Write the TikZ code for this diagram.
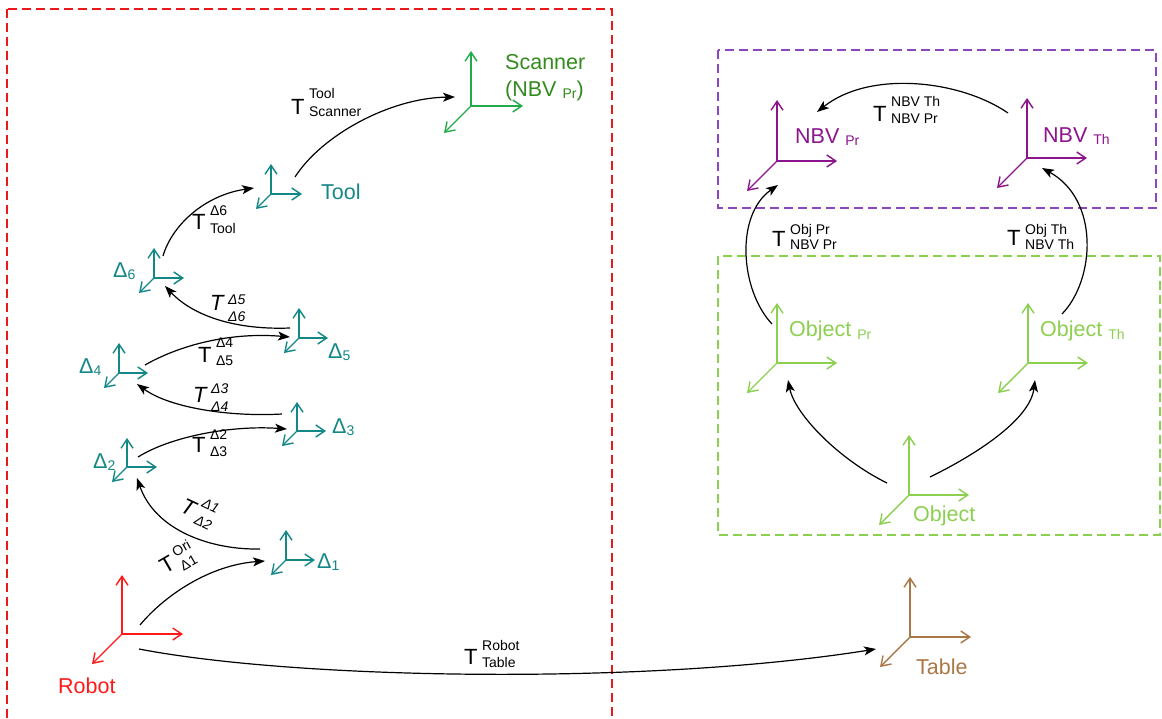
\documentclass[tikz,border=0pt]{standalone}
\usepackage{fontspec}
\setmainfont{Liberation Sans}
\usetikzlibrary{arrows.meta}
\definecolor{tealc}{RGB}{20,135,135}
\definecolor{scang}{RGB}{35,170,75}
\definecolor{scant}{RGB}{50,140,30}
\definecolor{robred}{RGB}{255,25,25}
\definecolor{boxred}{RGB}{235,25,25}
\definecolor{nbvp}{RGB}{140,20,140}
\definecolor{boxp}{RGB}{140,70,190}
\definecolor{objg}{RGB}{140,208,80}
\definecolor{brownc}{RGB}{170,120,70}
\newcommand\Tsz{\fontsize{22}{24}\selectfont}
\newcommand\Ssz{\fontsize{14}{16}\selectfont}
\newcommand\Lsz{\fontsize{21.5}{26}\selectfont}
\newcommand\lsub[1]{\raisebox{-2pt}{\Ssz #1}}
\newcommand\tlab[4]{{\Tsz T}\kern4.5pt\makebox[0pt][l]{\raisebox{#3pt}{\Ssz #1}}\raisebox{#4pt}{\Ssz #2}}
\newcommand\frameaxes[5]{%
  \draw[axis,draw=#2] (#1) -- ++(0,-#3);
  \draw[axis,draw=#2] (#1) -- ++(#4,0);
  \draw[axis,draw=#2] (#1) -- ++(-#5,#5);}
\tikzset{
  axis/.style={line width=1.4pt,line cap=round,-{Straight Barb[length=9pt,width=12pt]}},
  conn/.style={line width=1.2pt,black,-{Stealth[length=12pt,width=9pt,inset=3pt]}},
  lab/.style={inner sep=0pt,anchor=base west,font=\Lsz},
  tl/.style={inner sep=0pt,anchor=base west},
  dbox/.style={line width=1.3pt,dash pattern=on 9pt off 5pt},
}
\begin{document}
\begin{tikzpicture}[x=1pt,y=-1pt]
\useasboundingbox (0,0) rectangle (1162,719);
\clip (0,0) rectangle (1162,719);
\fill[white] (0,0) rectangle (1162,719);
% boxes
\draw[dbox,boxred] (7,9) rectangle (612,760);
\draw[dbox,boxp] (718,50) rectangle (1156,208);
\draw[dbox,objg] (718,256) rectangle (1160,535);
% frame origins
\coordinate (scannerO) at (471,106);
\coordinate (toolO) at (271,194);
\coordinate (d6O) at (154,278);
\coordinate (d5O) at (299,338);
\coordinate (d4O) at (119,373);
\coordinate (d3O) at (297,431);
\coordinate (d2O) at (127,467);
\coordinate (d1O) at (286,560);
\coordinate (robotO) at (122,634);
\coordinate (tableO) at (910,637);
\coordinate (nbvprO) at (777,161);
\coordinate (nbvthO) at (1027,158);
\coordinate (objprO) at (777,363);
\coordinate (objthO) at (1028,363);
\coordinate (objO) at (909,495);
% frames
\frameaxes{scannerO}{scang}{55}{52}{27}
\frameaxes{toolO}{tealc}{30}{31}{15}
\frameaxes{d6O}{tealc}{30}{30}{15}
\frameaxes{d5O}{tealc}{30}{29}{15}
\frameaxes{d4O}{tealc}{30}{29}{15}
\frameaxes{d3O}{tealc}{29}{29}{15}
\frameaxes{d2O}{tealc}{29}{30}{15}
\frameaxes{d1O}{tealc}{30}{29}{15}
\frameaxes{robotO}{robred}{59}{61}{30}
\frameaxes{tableO}{brownc}{60}{61}{30}
\frameaxes{nbvprO}{nbvp}{61}{60}{30}
\frameaxes{nbvthO}{nbvp}{60}{60}{30}
\frameaxes{objprO}{objg}{60}{60}{30}
\frameaxes{objthO}{objg}{60}{60}{30}
\frameaxes{objO}{objg}{60}{60}{30}
% frame labels
\node[lab,text=scant] (scannerA) at (505,70) {Scanner};
\node[lab,text=scant] (scannerB) at (505,97) {(NBV \lsub{Pr})};
\node[lab,text=tealc] (toolL) at (321,200) {Tool};
\node[lab,text=tealc] (d6L) at (113,278) {Δ\lsub{6}};
\node[lab,text=tealc] (d5L) at (328,358) {Δ\lsub{5}};
\node[lab,text=tealc] (d4L) at (79,373) {Δ\lsub{4}};
\node[lab,text=tealc] (d3L) at (332,433) {Δ\lsub{3}};
\node[lab,text=tealc] (d2L) at (93,468) {Δ\lsub{2}};
\node[lab,text=tealc] (d1L) at (317,568) {Δ\lsub{1}};
\node[lab,text=robred] (robotL) at (58,693) {Robot};
\node[lab,text=brownc] (tableL) at (916,674) {Table};
\node[lab,text=nbvp] (nbvprL) at (795,144) {NBV \lsub{Pr}};
\node[lab,text=nbvp] (nbvthL) at (1043,143) {NBV \lsub{Th}};
\node[lab,text=objg] (objprL) at (789,337) {Object \lsub{Pr}};
\node[lab,text=objg] (objthL) at (1040,337) {Object \lsub{Th}};
\node[lab,text=objg] (objL) at (913,521) {Object};
% connector end points
\coordinate (c1s) at (295,177); \coordinate (c1e) at (455,97);
\coordinate (c2s) at (163,256); \coordinate (c2e) at (254,188);
\coordinate (c3s) at (290,328); \coordinate (c3e) at (165,286);
\coordinate (c4s) at (145,365); \coordinate (c4e) at (290,337);
\coordinate (c5s) at (282,414); \coordinate (c5e) at (137,384);
\coordinate (c6s) at (138,457); \coordinate (c6e) at (287,429);
\coordinate (c7s) at (260,549); \coordinate (c7e) at (137,478);
\coordinate (c8s) at (140,625); \coordinate (c8e) at (265,561);
\coordinate (c9s) at (139,649); \coordinate (c9e) at (876,649);
\coordinate (c10s) at (1008,113); \coordinate (c10e) at (817,112);
\coordinate (c11s) at (772,324); \coordinate (c11e) at (778,185);
\coordinate (c12s) at (1062,314); \coordinate (c12e) at (1042,168);
\coordinate (c13s) at (887,483); \coordinate (c13e) at (788,380);
\coordinate (c14s) at (930,477); \coordinate (c14e) at (1035,380);
% connectors
\draw[conn] (c1s) .. controls (322,135) and (390,98) .. (c1e);
\draw[conn] (c2s) .. controls (172,225) and (205,195) .. (c2e);
\draw[conn] (c3s) .. controls (240,330) and (195,318) .. (c3e);
\draw[conn] (c4s) .. controls (180,345) and (230,332) .. (c4e);
\draw[conn] (c5s) .. controls (230,417) and (170,408) .. (c5e);
\draw[conn] (c6s) .. controls (170,437) and (230,425) .. (c6e);
\draw[conn] (c7s) .. controls (210,550) and (155,530) .. (c7e);
\draw[conn] (c8s) .. controls (165,595) and (210,565) .. (c8e);
\draw[conn] (c9s) .. controls (300,680) and (650,685) .. (c9e);
\draw[conn] (c10s) .. controls (960,80) and (870,70) .. (c10e);
\draw[conn] (c11s) .. controls (740,290) and (735,215) .. (c11e);
\draw[conn] (c12s) .. controls (1095,280) and (1100,200) .. (c12e);
\draw[conn] (c13s) .. controls (840,460) and (795,415) .. (c13e);
\draw[conn] (c14s) .. controls (975,455) and (1030,420) .. (c14e);
% transform labels
\node[tl] (t1) at (291,115) {\tlab{Tool}{Scanner}{16}{-2}};
\node[tl] (t2) at (192,230) {\tlab{Δ6}{Tool}{14}{-4}};
\node[tl,font=\itshape] (t3) at (210,311) {\tlab{Δ5}{Δ6}{6}{-11}};
\node[tl] (t4) at (198,362) {\tlab{Δ4}{Δ5}{15}{-3}};
\node[tl,font=\itshape] (t5) at (193,402) {\tlab{Δ3}{Δ4}{9}{-9}};
\node[tl] (t6) at (192,452) {\tlab{Δ2}{Δ3}{13}{-4}};
\node[tl,font=\itshape,rotate=-25] (t7) at (179,511) {\tlab{Δ1}{Δ2}{13}{-5}};
\node[tl,rotate=30] (t8) at (165,575) {\tlab{Ori}{Δ1}{10}{-6}};
\node[tl] (t9) at (464,664) {\tlab{Robot}{Table}{14}{-3}};
\node[tl] (t10) at (873,122) {\tlab{NBV Th}{NBV Pr}{15}{-2}};
\node[tl] (t11) at (772,247) {\tlab{Obj Pr}{NBV Pr}{12}{-3}};
\node[tl] (t12) at (1007,246) {\tlab{Obj Th}{NBV Th}{11}{-4}};
\end{tikzpicture}
\end{document}
